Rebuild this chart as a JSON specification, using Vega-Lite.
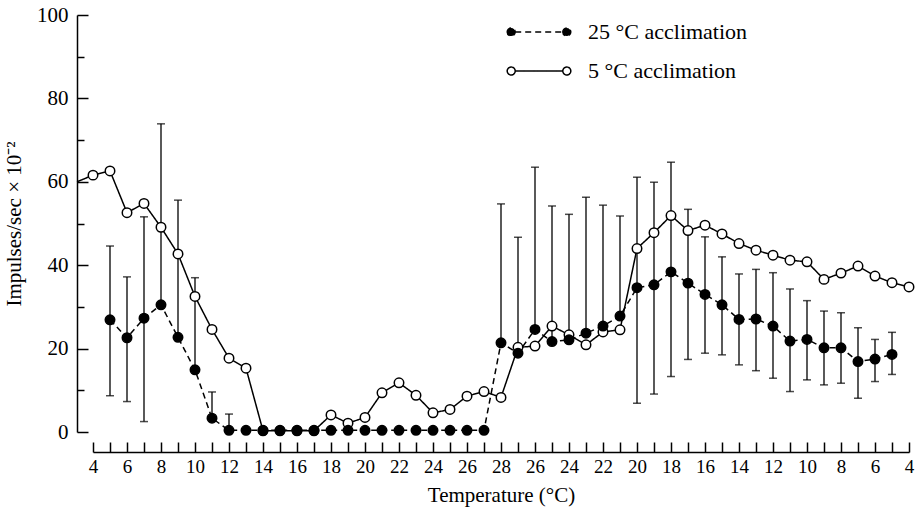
{
  "$schema": "https://vega.github.io/schema/vega-lite/v6.json",
  "width": 816,
  "height": 417,
  "autosize": "none",
  "padding": {"left": 93, "top": 15, "right": 8, "bottom": 77},
  "background": "white",
  "config": {
    "view": {"stroke": null},
    "font": "Liberation Serif",
    "axis": {
      "domainColor": "black", "domainWidth": 1.5, "tickColor": "black", "tickWidth": 1.5,
      "labelColor": "black", "titleColor": "black", "labelFont": "Liberation Serif",
      "titleFont": "Liberation Serif", "titleFontWeight": "normal", "grid": false
    }
  },
  "datasets": {
    "pts": [
      {"i": -0.94, "series": "5 °C acclimation", "v": 60},
      {"i": 0, "series": "5 °C acclimation", "v": 61.6},
      {"i": 1, "series": "5 °C acclimation", "v": 62.6},
      {"i": 2, "series": "5 °C acclimation", "v": 52.6},
      {"i": 3, "series": "5 °C acclimation", "v": 54.8},
      {"i": 4, "series": "5 °C acclimation", "v": 49.1},
      {"i": 5, "series": "5 °C acclimation", "v": 42.7},
      {"i": 6, "series": "5 °C acclimation", "v": 32.5},
      {"i": 7, "series": "5 °C acclimation", "v": 24.6},
      {"i": 8, "series": "5 °C acclimation", "v": 17.7},
      {"i": 9, "series": "5 °C acclimation", "v": 15.3},
      {"i": 10, "series": "5 °C acclimation", "v": 0.3},
      {"i": 11, "series": "5 °C acclimation", "v": 0.3},
      {"i": 12, "series": "5 °C acclimation", "v": 0.3},
      {"i": 13, "series": "5 °C acclimation", "v": 0.3},
      {"i": 14, "series": "5 °C acclimation", "v": 4.1},
      {"i": 15, "series": "5 °C acclimation", "v": 2.1},
      {"i": 16, "series": "5 °C acclimation", "v": 3.5},
      {"i": 17, "series": "5 °C acclimation", "v": 9.4},
      {"i": 18, "series": "5 °C acclimation", "v": 11.8},
      {"i": 19, "series": "5 °C acclimation", "v": 8.8},
      {"i": 20, "series": "5 °C acclimation", "v": 4.6},
      {"i": 21, "series": "5 °C acclimation", "v": 5.4},
      {"i": 22, "series": "5 °C acclimation", "v": 8.6},
      {"i": 23, "series": "5 °C acclimation", "v": 9.7},
      {"i": 24, "series": "5 °C acclimation", "v": 8.3},
      {"i": 25, "series": "5 °C acclimation", "v": 20.3},
      {"i": 26, "series": "5 °C acclimation", "v": 20.6},
      {"i": 27, "series": "5 °C acclimation", "v": 25.4},
      {"i": 28, "series": "5 °C acclimation", "v": 23.3},
      {"i": 29, "series": "5 °C acclimation", "v": 20.9},
      {"i": 30, "series": "5 °C acclimation", "v": 24.0},
      {"i": 31, "series": "5 °C acclimation", "v": 24.5},
      {"i": 32, "series": "5 °C acclimation", "v": 44.0},
      {"i": 33, "series": "5 °C acclimation", "v": 47.8},
      {"i": 34, "series": "5 °C acclimation", "v": 51.9},
      {"i": 35, "series": "5 °C acclimation", "v": 48.3},
      {"i": 36, "series": "5 °C acclimation", "v": 49.6},
      {"i": 37, "series": "5 °C acclimation", "v": 47.5},
      {"i": 38, "series": "5 °C acclimation", "v": 45.2},
      {"i": 39, "series": "5 °C acclimation", "v": 43.6},
      {"i": 40, "series": "5 °C acclimation", "v": 42.4},
      {"i": 41, "series": "5 °C acclimation", "v": 41.2},
      {"i": 42, "series": "5 °C acclimation", "v": 40.8},
      {"i": 43, "series": "5 °C acclimation", "v": 36.6},
      {"i": 44, "series": "5 °C acclimation", "v": 38.1},
      {"i": 45, "series": "5 °C acclimation", "v": 39.8},
      {"i": 46, "series": "5 °C acclimation", "v": 37.4},
      {"i": 47, "series": "5 °C acclimation", "v": 35.8},
      {"i": 48, "series": "5 °C acclimation", "v": 34.8},
      {"i": 1, "series": "25 °C acclimation", "v": 26.9, "lo": 8.7, "hi": 44.6},
      {"i": 2, "series": "25 °C acclimation", "v": 22.6, "lo": 7.3, "hi": 37.2},
      {"i": 3, "series": "25 °C acclimation", "v": 27.3, "lo": 2.5, "hi": 51.6},
      {"i": 4, "series": "25 °C acclimation", "v": 30.5, "lo": 30.5, "hi": 73.9},
      {"i": 5, "series": "25 °C acclimation", "v": 22.7, "lo": 22.7, "hi": 55.6},
      {"i": 6, "series": "25 °C acclimation", "v": 14.9, "lo": 14.9, "hi": 37.0},
      {"i": 7, "series": "25 °C acclimation", "v": 3.3, "lo": 3.3, "hi": 9.6},
      {"i": 8, "series": "25 °C acclimation", "v": 0.4, "lo": 0.4, "hi": 4.3},
      {"i": 9, "series": "25 °C acclimation", "v": 0.4},
      {"i": 10, "series": "25 °C acclimation", "v": 0.4},
      {"i": 11, "series": "25 °C acclimation", "v": 0.4},
      {"i": 12, "series": "25 °C acclimation", "v": 0.4},
      {"i": 13, "series": "25 °C acclimation", "v": 0.4},
      {"i": 14, "series": "25 °C acclimation", "v": 0.4},
      {"i": 15, "series": "25 °C acclimation", "v": 0.4},
      {"i": 16, "series": "25 °C acclimation", "v": 0.4},
      {"i": 17, "series": "25 °C acclimation", "v": 0.4},
      {"i": 18, "series": "25 °C acclimation", "v": 0.4},
      {"i": 19, "series": "25 °C acclimation", "v": 0.4},
      {"i": 20, "series": "25 °C acclimation", "v": 0.4},
      {"i": 21, "series": "25 °C acclimation", "v": 0.4},
      {"i": 22, "series": "25 °C acclimation", "v": 0.4},
      {"i": 23, "series": "25 °C acclimation", "v": 0.4},
      {"i": 24, "series": "25 °C acclimation", "v": 21.4, "lo": 21.4, "hi": 54.7},
      {"i": 25, "series": "25 °C acclimation", "v": 18.9, "lo": 18.9, "hi": 46.7},
      {"i": 26, "series": "25 °C acclimation", "v": 24.6, "lo": 24.6, "hi": 63.5},
      {"i": 27, "series": "25 °C acclimation", "v": 21.7, "lo": 21.7, "hi": 54.2},
      {"i": 28, "series": "25 °C acclimation", "v": 22.1, "lo": 22.1, "hi": 52.2},
      {"i": 29, "series": "25 °C acclimation", "v": 23.7, "lo": 23.7, "hi": 56.3},
      {"i": 30, "series": "25 °C acclimation", "v": 25.4, "lo": 25.4, "hi": 54.4},
      {"i": 31, "series": "25 °C acclimation", "v": 27.8, "lo": 27.8, "hi": 51.8},
      {"i": 32, "series": "25 °C acclimation", "v": 34.6, "lo": 6.9, "hi": 61.1},
      {"i": 33, "series": "25 °C acclimation", "v": 35.3, "lo": 9.1, "hi": 59.9},
      {"i": 34, "series": "25 °C acclimation", "v": 38.4, "lo": 13.3, "hi": 64.7},
      {"i": 35, "series": "25 °C acclimation", "v": 35.7, "lo": 17.4, "hi": 53.4},
      {"i": 36, "series": "25 °C acclimation", "v": 33.0, "lo": 18.9, "hi": 46.8},
      {"i": 37, "series": "25 °C acclimation", "v": 30.5, "lo": 18.5, "hi": 42.0},
      {"i": 38, "series": "25 °C acclimation", "v": 27.0, "lo": 16.1, "hi": 37.9},
      {"i": 39, "series": "25 °C acclimation", "v": 27.1, "lo": 14.7, "hi": 39.0},
      {"i": 40, "series": "25 °C acclimation", "v": 25.4, "lo": 12.9, "hi": 38.2},
      {"i": 41, "series": "25 °C acclimation", "v": 21.8, "lo": 9.7, "hi": 34.3},
      {"i": 42, "series": "25 °C acclimation", "v": 22.2, "lo": 12.5, "hi": 31.5},
      {"i": 43, "series": "25 °C acclimation", "v": 20.2, "lo": 11.3, "hi": 29.0},
      {"i": 44, "series": "25 °C acclimation", "v": 20.2, "lo": 11.7, "hi": 28.6},
      {"i": 45, "series": "25 °C acclimation", "v": 16.9, "lo": 8.1, "hi": 25.0},
      {"i": 46, "series": "25 °C acclimation", "v": 17.5, "lo": 12.1, "hi": 22.2},
      {"i": 47, "series": "25 °C acclimation", "v": 18.6, "lo": 13.8, "hi": 23.9}
    ]
  },
  "data": {"name": "pts"},
  "resolve": {"axis": {"y": "independent"}},
  "encoding": {
    "x": {
      "field": "i", "type": "quantitative",
      "scale": {"domain": [0, 48], "nice": false, "zero": false},
      "axis": {
        "values": [0,1,2,3,4,5,6,7,8,9,10,11,12,13,14,15,16,17,18,19,20,21,22,23,24,25,26,27,28,29,30,31,32,33,34,35,36,37,38,39,40,41,42,43,44,45,46,47,48],
        "labelExpr": "datum.value % 2 === 0 ? (datum.value <= 24 ? 4 + datum.value : 52 - datum.value) : ''",
        "offset": 20,
        "tickSize": -10,
        "labelPadding": 15,
        "labelFont": "Liberation Serif",
        "labelFontSize": 19,
        "labelFlush": false,
        "labelOverlap": false,
        "title": "Temperature (°C)",
        "titleFont": "Liberation Serif",
        "titleFontSize": 21,
        "titlePadding": 8
      }
    }
  },
  "layer": [
    {
      "transform": [{"filter": "isValid(datum.hi)"}],
      "mark": {"type": "rule", "color": "black", "strokeWidth": 1.3},
      "encoding": {
        "y": {"field": "lo", "type": "quantitative", "scale": {"domain": [0, 100]},
          "axis": {"orient": "left", "values": [10,30,50,70,90], "tickSize": -7, "labels": false, "domain": false, "title": null, "offset": 16}},
        "y2": {"field": "hi"}
      }
    },
    {
      "transform": [{"filter": "isValid(datum.hi)"}],
      "mark": {"type": "tick", "orient": "horizontal", "color": "black", "size": 8, "thickness": 1.5},
      "encoding": {
        "y": {"field": "hi", "type": "quantitative", "scale": {"domain": [0, 100]}, "axis": null}
      }
    },
    {
      "transform": [{"filter": "isValid(datum.hi) && datum.lo < datum.v"}],
      "mark": {"type": "tick", "orient": "horizontal", "color": "black", "size": 8, "thickness": 1.5},
      "encoding": {
        "y": {"field": "lo", "type": "quantitative", "scale": {"domain": [0, 100]}, "axis": null}
      }
    },
    {
      "mark": {"type": "line", "color": "black", "strokeWidth": 1.5},
      "encoding": {
        "y": {"field": "v", "type": "quantitative", "scale": {"domain": [0, 100]},
          "axis": {
            "orient": "left",
            "values": [0,20,40,60,80,100],
            "offset": 16,
            "tickSize": -11,
            "labelPadding": 20,
            "labelFont": "Liberation Serif",
            "labelFontSize": 21,
            "title": "Impulses/sec × 10⁻²",
            "titleFont": "Liberation Serif",
            "titleFontSize": 21,
            "titlePadding": 12
          }
        },
        "strokeDash": {"field": "series", "type": "nominal",
          "scale": {"domain": ["25 °C acclimation", "5 °C acclimation"], "range": [[6, 4], [1, 0]]},
          "legend": {
            "title": null,
            "orient": "none",
            "legendX": 435,
            "legendY": 6,
            "symbolSize": 400,
            "symbolStrokeColor": "black",
            "symbolStrokeWidth": 1.5,
            "labelFont": "Liberation Serif",
            "labelFontSize": 22,
            "labelColor": "black",
            "labelOffset": 38,
            "rowPadding": 17,
            "labelExpr": "datum.value === '5 °C acclimation' ? '\u2007' + datum.label : datum.label",
            "encode": {
              "symbols": {
                "update": {
                  "shape": {"value": "M-3.18,0C-3.18,-0.221,-3.001,-0.4,-2.78,-0.4C-2.559,-0.4,-2.38,-0.221,-2.38,0C-2.38,0.221,-2.559,0.4,-2.78,0.4C-3.001,0.4,-3.18,0.221,-3.18,0Z M-2.38,0L2.38,0 M2.38,0C2.38,-0.221,2.559,-0.4,2.78,-0.4C3.001,-0.4,3.18,-0.221,3.18,0C3.18,0.221,3.001,0.4,2.78,0.4C2.559,0.4,2.38,0.221,2.38,0Z"},
                  "fill": [{"test": "datum.value === '25 °C acclimation'", "value": "black"}, {"value": "white"}],
                  "stroke": {"value": "black"}
                }
              }
            }
          }
        }
      }
    },
    {
      "transform": [{"filter": "datum.i >= 0"}],
      "mark": {"type": "point", "shape": "circle", "filled": true, "stroke": "black", "strokeWidth": 1.5, "size": 90, "opacity": 1},
      "encoding": {
        "y": {"field": "v", "type": "quantitative", "scale": {"domain": [0, 100]}, "axis": null},
        "fill": {"field": "series", "type": "nominal",
          "scale": {"domain": ["25 °C acclimation", "5 °C acclimation"], "range": ["black", "white"]},
          "legend": null
        }
      }
    }
  ]
}
